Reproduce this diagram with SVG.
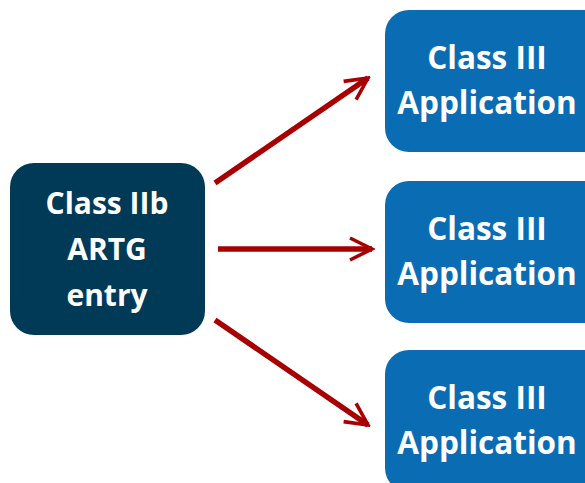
<svg xmlns="http://www.w3.org/2000/svg" width="585" height="483" viewBox="0 0 585 483">
<style>
.t{font-family:"Open Sans","Liberation Sans",sans-serif;font-weight:bold;font-size:30px;fill:#ffffff;text-anchor:middle}
.r{font-size:31.5px}
.app{fill:#0A6DB3}
.c{stroke:#A80000;stroke-width:5.5;fill:none;stroke-linecap:butt}
</style>
<defs>
<marker id="ah" viewBox="0 0 10 10" refX="9" refY="5" markerWidth="5" markerHeight="5" markerUnits="strokeWidth" orient="auto">
<path d="M1,1 L9,5 L1,9" fill="none" stroke="#A80000" stroke-width="1.3"/>
</marker>
</defs>
<rect width="585" height="483" fill="#ffffff"/>
<g id="src">
<rect x="10" y="163" width="195" height="172" rx="24" fill="#003A57"/>
<text class="t" x="107" y="214">Class IIb</text>
<text class="t" x="107" y="260">ARTG</text>
<text class="t" x="107" y="306">entry</text>
</g>
<g id="app1">
<rect class="app" x="385" y="10" width="240" height="142" rx="24"/>
<text class="t r" x="487" y="69">Class III</text>
<text class="t r" x="487" y="114">Application</text>
</g>
<g id="app2">
<rect class="app" x="385" y="181" width="240" height="142" rx="24"/>
<text class="t r" x="487" y="240">Class III</text>
<text class="t r" x="487" y="285">Application</text>
</g>
<g id="app3">
<rect class="app" x="385" y="350" width="240" height="142" rx="24"/>
<text class="t r" x="487" y="409">Class III</text>
<text class="t r" x="487" y="454">Application</text>
</g>
<g id="connectors">
<line class="c" x1="215" y1="183" x2="368" y2="78" marker-end="url(#ah)"/>
<line class="c" x1="218" y1="249" x2="372" y2="249" marker-end="url(#ah)"/>
<line class="c" x1="215" y1="320" x2="368" y2="425" marker-end="url(#ah)"/>
</g>
</svg>
